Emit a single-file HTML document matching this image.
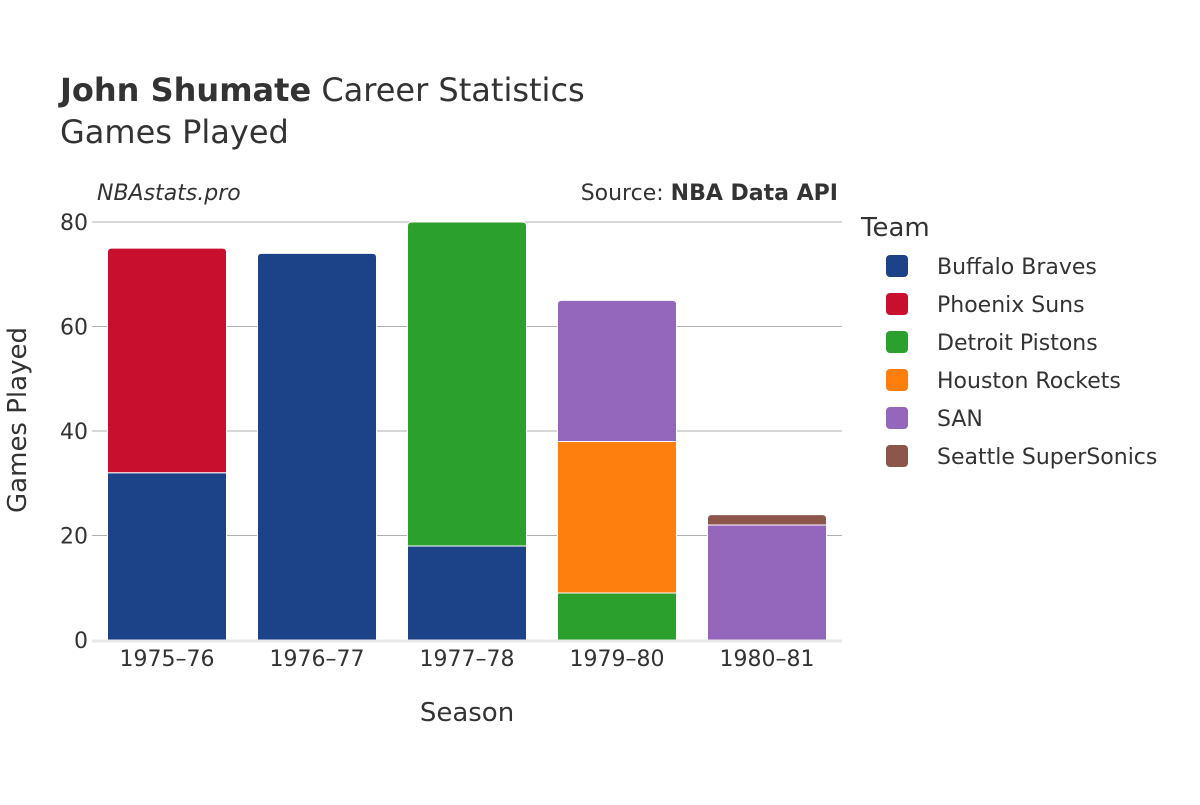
<!DOCTYPE html>
<html><head><meta charset="utf-8"><style>
body{margin:0;background:#fff;}
svg{font-family:"DejaVu Sans","Liberation Sans",sans-serif;}
</style></head><body>
<svg width="1200" height="800">
<rect width="1200" height="800" fill="#fff"/>
<text x="60" y="101" font-size="32" fill="#333"><tspan font-weight="bold">John Shumate</tspan> Career Statistics</text>
<text x="60" y="143" font-size="32" fill="#333">Games Played</text>
<text x="97" y="200" font-size="22" font-style="italic" fill="#333">NBAstats.pro</text>
<text x="838" y="200" font-size="22" fill="#333" text-anchor="end">Source: <tspan font-weight="bold">NBA Data API</tspan></text>
<g id="grid"></g>
<g id="bars"></g>
<g id="axes"></g>
<text x="467" y="721" font-size="26" fill="#333" text-anchor="middle">Season</text>
<text transform="translate(26,420) rotate(-90)" font-size="26" fill="#333" text-anchor="middle">Games Played</text>
<text x="861" y="236" font-size="26" fill="#333">Team</text>
<g id="legend"></g>
</svg>
<script>
const seasons=["1975–76","1976–77","1977–78","1979–80","1980–81"];
const teams=["Buffalo Braves","Phoenix Suns","Detroit Pistons","Houston Rockets","SAN","Seattle SuperSonics"];
const colors=["#1c4288","#c8102e","#2ca02c","#ff7f0e","#9467bd","#8c564b"];
const buffalo=[32,74,18,0,0];
const phoenix=[43,0,0,0,0];
const detroit=[0,0,62,9,0];
const houston=[0,0,0,29,0];
const san=[0,0,0,27,22];
const seattle=[0,0,0,0,2];
const yTicks=[0,20,40,60,80];
const series=[buffalo,phoenix,detroit,houston,san,seattle];
const NS="http://www.w3.org/2000/svg";
const x0=92,x1=842,y0=640,y1=222,yMax=80;
const band=(x1-x0)/seasons.length,bw=119;
const y=v=>y0-(v/yMax)*(y0-y1);
const xc=i=>x0+band*(i+0.5);
function mk(tag,attrs,parent){const e=document.createElementNS(NS,tag);for(const k in attrs)e.setAttribute(k,attrs[k]);parent.appendChild(e);return e;}
const grid=document.getElementById('grid'),bars=document.getElementById('bars'),axes=document.getElementById('axes'),legend=document.getElementById('legend');
yTicks.forEach(t=>{
  if(t>0){const l=mk('line',{x1:x0,x2:x1,y1:y(t),y2:y(t),stroke:'#b0b0b0','stroke-width':1},grid);
  
  }
  const tx=mk('text',{x:x0-4,y:y(t)+8,'font-size':22,fill:'#333','text-anchor':'end'},axes);
  tx.textContent=t;
  
  
});
const zl=mk('line',{x1:x0,x2:x1,y1:y0+1,y2:y0+1,stroke:'#e8e8e8','stroke-width':3},axes);


seasons.forEach((s,i)=>{
  const tx=mk('text',{x:xc(i),y:666,'font-size':22,fill:'#333','text-anchor':'middle'},axes);
  tx.textContent=s;
  
  
  let top=-1;series.forEach((a,k)=>{if(a[i]>0)top=k;});
  let cum=0;
  series.forEach((a,k)=>{
    const v=a[i];if(!v)return;
    const yt=y(cum+v),yb=y(cum);const xl=xc(i)-bw/2,xr=xl+bw;
    let d;
    if(k===top){const r=4;d=`M${xl},${yb}V${yt+r}Q${xl},${yt} ${xl+r},${yt}H${xr-r}Q${xr},${yt} ${xr},${yt+r}V${yb}Z`;}
    else d=`M${xl},${yb}V${yt}H${xr}V${yb}Z`;
    const p=mk('path',{d:d,fill:colors[k],stroke:'#fff','stroke-width':1},bars);
    
    
    cum+=v;
  });
});
teams.forEach((t,k)=>{
  const yy=266+k*38;
  const r=mk('rect',{x:886,y:yy-11,width:22,height:22,rx:4,fill:colors[k]},legend);
  
  
  const tx=mk('text',{x:937,y:yy+8,'font-size':22,fill:'#333'},legend);
  tx.textContent=t;
  
  
});
</script>
</body></html>
